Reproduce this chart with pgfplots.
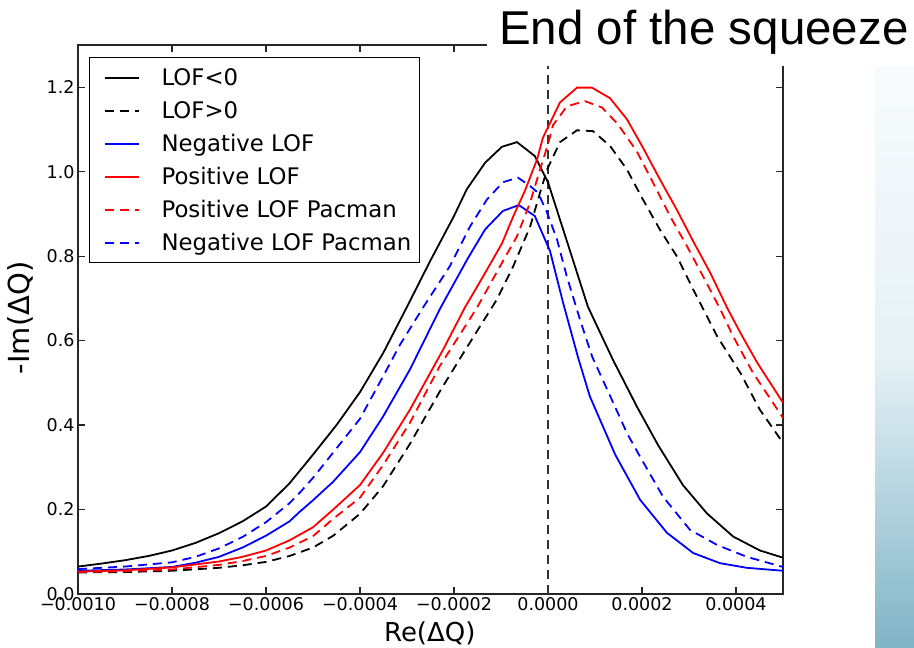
\documentclass[border=0pt]{standalone}
\usepackage{pgfplots}
\pgfplotsset{compat=1.18}
\usepackage{fontspec}
\setmainfont{DejaVu Sans}
\newfontfamily\titlefont{Liberation Sans}
\definecolor{myblue}{RGB}{0,0,255}
\definecolor{myred}{RGB}{255,0,0}
\begin{document}
\begin{tikzpicture}[x=1pt,y=1pt]
\path[use as bounding box] (0,0) rectangle (914,648);
\shade[top color={rgb,255:red,230;green,241;blue,245}, bottom color={rgb,255:red,128;green,180;blue,198}] (875,0) rectangle (914,290);
\shade[top color={rgb,255:red,248;green,251;blue,253}, bottom color={rgb,255:red,230;green,241;blue,245}] (875,289.5) rectangle (914,583);
\begin{axis}[
  at={(78pt,54pt)}, anchor=south west, scale only axis,
  width=705pt, height=549pt,
  xmin=-0.001, xmax=0.0005, ymin=0, ymax=1.3,
  xtick={-0.001,-0.0008,-0.0006,-0.0004,-0.0002,0,0.0002,0.0004},
  xticklabels={−0.0010,−0.0008,−0.0006,−0.0004,−0.0002,0.0000,0.0002,0.0004},
  ytick={0,0.2,0.4,0.6,0.8,1.0,1.2},
  yticklabels={0.0,0.2,0.4,0.6,0.8,1.0,1.2},
  scaled x ticks=false, scaled y ticks=false,
  tick align=inside, major tick length=7pt,
  every tick/.style={black!85, line width=1.2pt},
  axis line style={black!85, line width=1.5pt},
  tick label style={font=\fontsize{17.5}{20}\selectfont},
  xlabel={Re(ΔQ)},
  xlabel style={font=\fontsize{26}{30}\selectfont, at={(axis description cs:0.499,-0.071)}, anchor=center},
  ylabel={-Im(ΔQ)},
  ylabel style={font=\fontsize{29}{32}\selectfont, at={(axis description cs:-0.0823,0.503)}, anchor=center},
  legend cell align=left,
  legend style={at={(axis description cs:0.0156,0.978)}, anchor=north west, draw=black, line width=1.2pt, fill=white,
    inner xsep=8pt, inner ysep=11pt, row sep=15pt, column sep=0pt,
    font=\fontsize{22.8}{26}\selectfont,
    nodes={inner sep=0pt, text height=17pt, text depth=1pt}},
  legend image code/.code={\path[draw=none,fill=none] (0pt,-1pt) rectangle (64pt,1pt); \draw[#1] (7pt,0pt) -- (41pt,0pt);},
]
\addplot[black!80, line width=1.5pt, dash pattern=on 9pt off 6pt, forget plot] coordinates {(0,0) (0,1.3)};
% LOF<0
\addplot[black, line width=1.8pt] coordinates {
(-0.001,0.065) (-0.00095,0.072) (-0.0009,0.080) (-0.00085,0.090) (-0.0008,0.103) (-0.00075,0.121) (-0.0007,0.144) (-0.00065,0.172) (-0.0006,0.207) (-0.00055,0.262) (-0.0005,0.330) (-0.00045,0.400) (-0.0004,0.478) (-0.00035,0.572) (-0.0003,0.680) (-0.00025,0.790) (-0.0002,0.895) (-0.000173,0.958) (-0.000134,1.021) (-0.000098,1.059) (-0.000066,1.070) (-0.000028,1.037) (0,0.975) (0.000085,0.680) (0.000138,0.555) (0.000189,0.444) (0.000234,0.353) (0.000287,0.258) (0.000338,0.191) (0.000394,0.136) (0.000451,0.103) (0.0005,0.086)};
\addlegendentry{LOF<0}
% LOF>0
\addplot[black, line width=1.8pt, dash pattern=on 9pt off 6pt] coordinates {
(-0.001,0.051) (-0.0009,0.052) (-0.0008,0.055) (-0.0007,0.062) (-0.00065,0.068) (-0.0006,0.076) (-0.00055,0.090) (-0.0005,0.110) (-0.000457,0.138) (-0.0004,0.190) (-0.000351,0.255) (-0.000294,0.355) (-0.00023,0.480) (-0.000172,0.585) (-0.000109,0.697) (-0.000074,0.776) (-0.000038,0.870) (-0.000017,0.950) (-0.000002,1.005) (0.0000255,1.070) (0.0000617,1.098) (0.0000957,1.096) (0.000132,1.061) (0.000168,1.005) (0.000202,0.934) (0.000238,0.863) (0.000274,0.800) (0.000309,0.721) (0.00036,0.610) (0.000409,0.524) (0.000451,0.436) (0.0005,0.358)};
\addlegendentry{LOF>0}
% Negative LOF
\addplot[myblue, line width=1.8pt] coordinates {
(-0.001,0.055) (-0.0009,0.058) (-0.0008,0.064) (-0.00075,0.074) (-0.0007,0.088) (-0.00065,0.110) (-0.0006,0.138) (-0.00055,0.172) (-0.000528,0.195) (-0.0005,0.222) (-0.000457,0.266) (-0.0004,0.336) (-0.000351,0.420) (-0.000294,0.531) (-0.00023,0.675) (-0.000172,0.792) (-0.000134,0.863) (-0.000096,0.907) (-0.000062,0.921) (-0.000028,0.895) (0.0000043,0.812) (0.000032,0.690) (0.000064,0.560) (0.000089,0.468) (0.000143,0.330) (0.000196,0.223) (0.000253,0.145) (0.000309,0.097) (0.000366,0.073) (0.000423,0.062) (0.0005,0.055)};
\addlegendentry{Negative LOF}
% Positive LOF
\addplot[myred, line width=1.8pt] coordinates {
(-0.001,0.053) (-0.0009,0.056) (-0.0008,0.063) (-0.0007,0.077) (-0.00065,0.088) (-0.0006,0.103) (-0.00055,0.127) (-0.0005,0.158) (-0.000457,0.200) (-0.0004,0.258) (-0.000351,0.334) (-0.000294,0.436) (-0.000223,0.579) (-0.000177,0.678) (-0.000138,0.752) (-0.000098,0.830) (-0.000074,0.894) (-0.000049,0.955) (-0.000023,1.030) (-0.000011,1.080) (0.0000255,1.164) (0.0000617,1.199) (0.0000936,1.199) (0.000132,1.174) (0.000168,1.124) (0.000202,1.057) (0.000238,0.982) (0.000274,0.910) (0.000309,0.835) (0.000345,0.761) (0.000381,0.678) (0.000409,0.619) (0.000445,0.548) (0.0005,0.453)};
\addlegendentry{Positive LOF}
% Positive LOF Pacman
\addplot[myred, line width=1.8pt, dash pattern=on 9pt off 6pt] coordinates {
(-0.001,0.052) (-0.0009,0.054) (-0.0008,0.058) (-0.0007,0.069) (-0.00065,0.078) (-0.0006,0.090) (-0.00055,0.110) (-0.0005,0.137) (-0.000457,0.178) (-0.0004,0.228) (-0.000351,0.305) (-0.000294,0.405) (-0.00023,0.540) (-0.000151,0.678) (-0.000102,0.776) (-0.000066,0.847) (-0.000038,0.927) (-0.000017,1.005) (0,1.065) (0.0000106,1.110) (0.0000404,1.155) (0.0000787,1.167) (0.000115,1.152) (0.000149,1.112) (0.000189,1.048) (0.000223,0.975) (0.00026,0.894) (0.000296,0.823) (0.00033,0.752) (0.000364,0.680) (0.000394,0.610) (0.000436,0.524) (0.0005,0.417)};
\addlegendentry{Positive LOF Pacman}
% Negative LOF Pacman
\addplot[myblue, line width=1.8pt, dash pattern=on 9pt off 6pt] coordinates {
(-0.001,0.059) (-0.0009,0.065) (-0.0008,0.075) (-0.00075,0.088) (-0.0007,0.108) (-0.00065,0.135) (-0.0006,0.170) (-0.00055,0.215) (-0.000528,0.240) (-0.0005,0.275) (-0.000457,0.335) (-0.0004,0.415) (-0.000351,0.515) (-0.000315,0.590) (-0.000266,0.678) (-0.000209,0.776) (-0.000166,0.870) (-0.00013,0.934) (-0.000096,0.975) (-0.000064,0.986) (-0.000038,0.966) (-0.000021,0.950) (-0.000002,0.903) (0.000019,0.840) (0.00004,0.752) (0.000068,0.650) (0.000094,0.562) (0.000126,0.484) (0.000168,0.381) (0.000196,0.325) (0.000245,0.230) (0.000302,0.152) (0.00036,0.116) (0.000423,0.088) (0.0005,0.064)};
\addlegendentry{Negative LOF Pacman}
\node[anchor=base west, inner sep=0pt, font=\fontsize{17}{20}\selectfont] at (rel axis cs:0,1) [yshift=6pt] {1e−4};
\end{axis}
\fill[white] (487,582) rectangle (914,648);
\node[font=\titlefont\fontsize{47.5}{52}\selectfont, anchor=base west, inner sep=0pt] at (499,603) {End of the squeeze};
\end{tikzpicture}
\end{document}
